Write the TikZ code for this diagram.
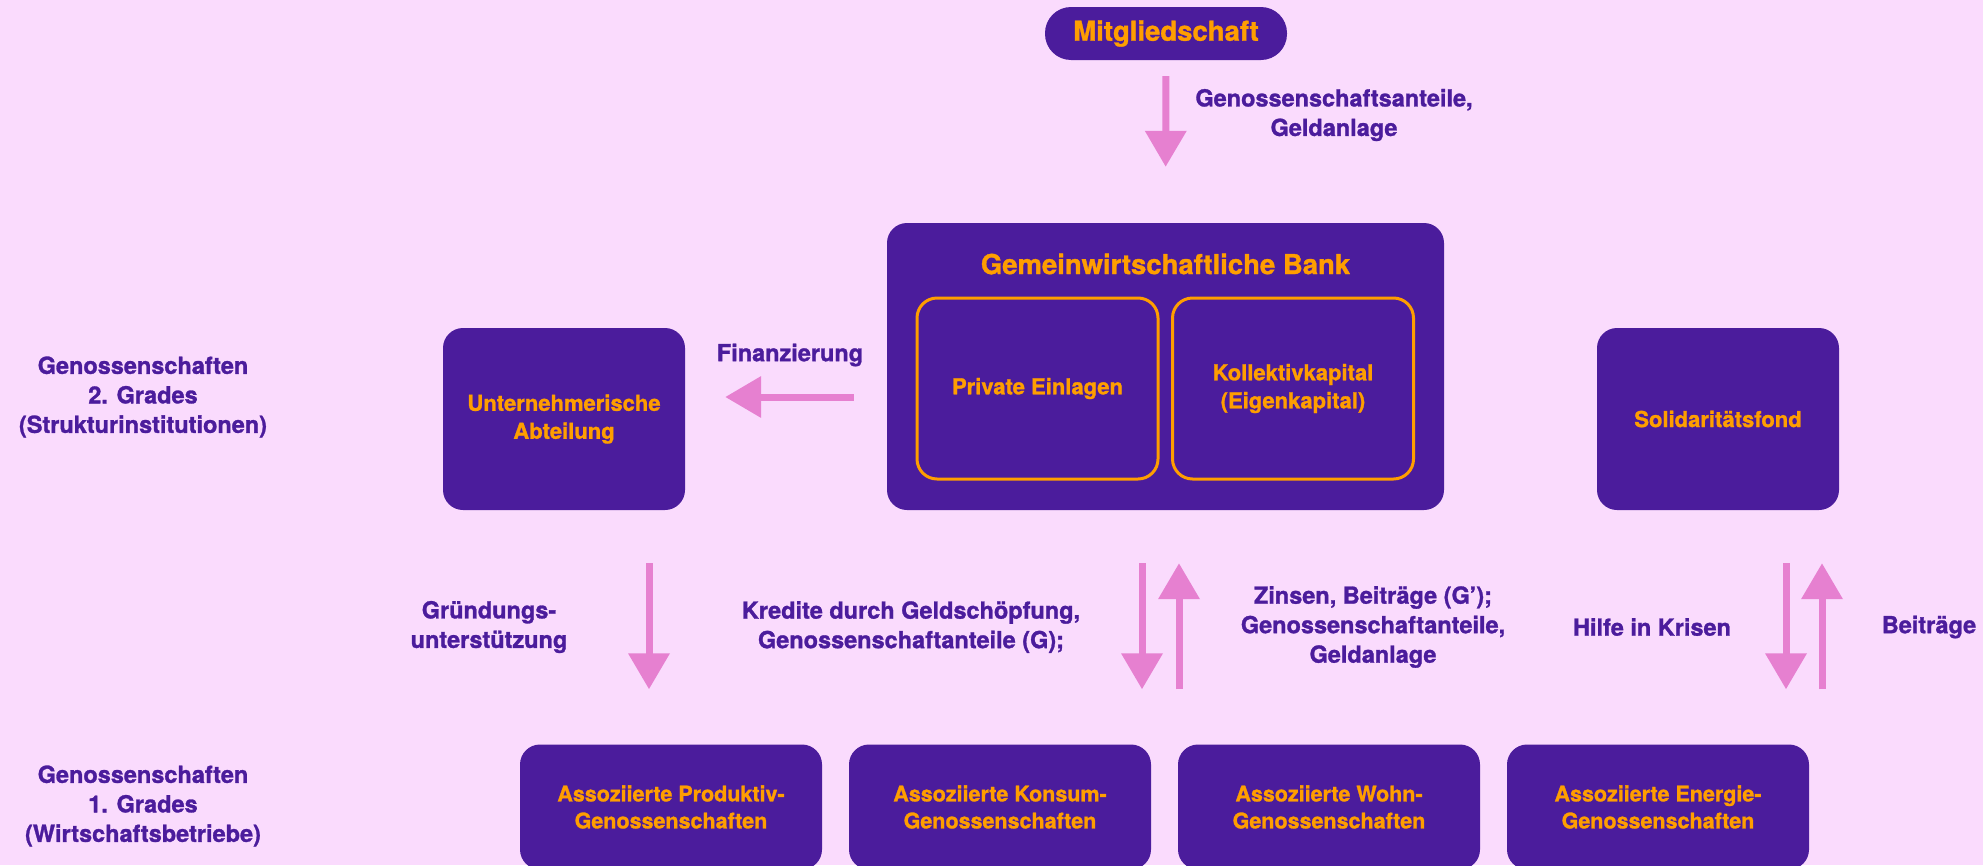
\documentclass[tikz,border=0pt]{standalone}
\usepackage{fontspec}
\setmainfont{TeX Gyre Heros}[BoldFeatures={FakeBold=1.2}]
\usepackage{xcolor}
\usepackage{tikz}
\usetikzlibrary{arrows.meta,positioning}

\definecolor{bgpink}{HTML}{FADBFD}
\definecolor{coopviolet}{HTML}{4B1C9C}
\definecolor{cooporange}{HTML}{FF9E00}
\definecolor{arrowpink}{HTML}{E680D0}

\begin{document}
\begin{tikzpicture}[
    x=1pt, y=-1pt,
    every node/.style={font=\bfseries},
    box/.style={
        rectangle,
        rounded corners=20pt,
        fill=coopviolet,
        text=cooporange,
        align=center,
        minimum width=242pt,
        minimum height=182pt,
        inner sep=0pt,
        font=\bfseries\fontsize{22}{28}\selectfont
    },
    inbox/.style={
        box,
        fill=none,
        draw=cooporange,
        line width=3pt,
        minimum width=241pt,
        minimum height=181pt
    },
    basebox/.style={
        box,
        minimum width=302pt,
        minimum height=125pt,
        font=\bfseries\fontsize{21.5}{27}\selectfont
    },
    pill/.style={
        rectangle,
        rounded corners=26pt,
        fill=coopviolet,
        text=cooporange,
        minimum width=242pt,
        minimum height=53pt,
        font=\bfseries\fontsize{27.5}{32}\selectfont
    },
    lbl/.style={
        text=coopviolet,
        align=center,
        inner sep=0pt,
        font=\bfseries\fontsize{23.5}{29.5}\selectfont
    },
    flow/.style={draw=arrowpink, line width=7pt, -{Triangle[width=40pt,length=36pt]}}
]

\fill[bgpink] (0,0) rectangle (1983,865);
\useasboundingbox (0,0) rectangle (1983,865);
\clip (0,0) rectangle (1983,865);

% top
\node[pill] (mitglied) at (1166,33.5) {Mitgliedschaft};
\node[lbl] (anteile) at (1334,115) {Genossenschaftsanteile,\\Geldanlage};

% second level
\node[box, minimum width=557pt, minimum height=287pt] (bank) at (1165.5,366.5) {};
\node[text=cooporange, font=\bfseries\fontsize{27.5}{32}\selectfont] (banktitle) at (1165.5,264) {Gemeinwirtschaftliche Bank};
\node[inbox] (privat) at (1037.5,388.5) {Private Einlagen};
\node[inbox] (kollektiv) at (1293,388.5) {Kollektivkapital\\(Eigenkapital)};

\node[box] (unter) at (564,419) {Unternehmerische\\Abteilung};
\node[box] (solid) at (1718,419) {Solidaritätsfond};

\node[lbl] (grad2) at (143,397) {Genossenschaften\\2. Grades\\(Strukturinstitutionen)};

% first level
\node[basebox] (prod) at (671,807) {Assoziierte Produktiv-\\Genossenschaften};
\node[basebox] (konsum) at (1000,807) {Assoziierte Konsum-\\Genossenschaften};
\node[basebox] (wohn) at (1329,807) {Assoziierte Wohn-\\Genossenschaften};
\node[basebox] (energie) at (1658,807) {Assoziierte Energie-\\Genossenschaften};

\node[lbl] (grad1) at (143,806) {Genossenschaften\\1. Grades\\(Wirtschaftsbetriebe)};

% arrow columns
\coordinate (fin) at (0,397);
\coordinate (gr) at (649,0);
\coordinate (bd) at (1142,0);
\coordinate (bu) at (1179,0);
\coordinate (sd) at (1786,0);
\coordinate (su) at (1822,0);

\draw[flow, shorten <=16pt, shorten >=56pt] (mitglied) -- (bank.north);
\draw[flow, shorten <=33pt, shorten >=40pt] (bank.west |- fin) -- (unter.east |- fin);

\draw[flow, shorten <=53pt, shorten >=55pt] (unter.south -| gr) -- (prod.north -| gr);
\draw[flow, shorten <=53pt, shorten >=55pt] (bank.south -| bd) -- (konsum.north -| bd);
\draw[flow, shorten <=55pt, shorten >=53pt] (wohn.north -| bu) -- (bank.south -| bu);
\draw[flow, shorten <=53pt, shorten >=55pt] (solid.south -| sd) -- (energie.north -| sd);
\draw[flow, shorten <=55pt, shorten >=53pt] (energie.north -| su) -- (solid.south -| su);

% labels
\node[lbl] (finanz) at (790,355) {Finanzierung};
\node[lbl] (gruendung) at (489,627) {Gründungs-\\unterstützung};
\node[lbl] (kredite) at (911,627) {Kredite durch Geldschöpfung,\\Genossenschaftanteile (G);};
\node[lbl] (zinsen) at (1373,627) {Zinsen, Beiträge (G’);\\Genossenschaftanteile,\\Geldanlage};
\node[lbl] (hilfe) at (1652,627) {Hilfe in Krisen};
\node[lbl] (beitrag) at (1929,627) {Beiträge};

\end{tikzpicture}
\end{document}
